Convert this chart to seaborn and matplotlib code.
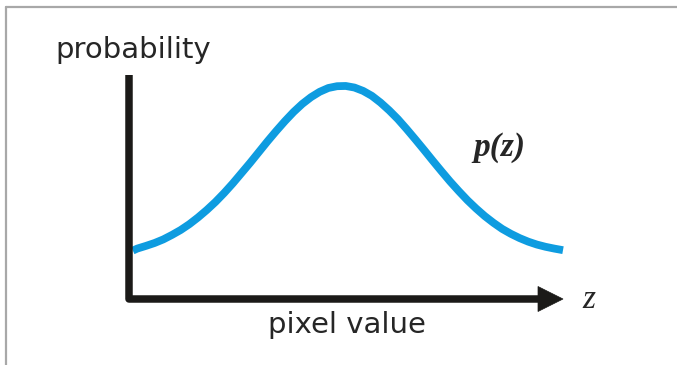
import matplotlib
matplotlib.use("Agg")
import matplotlib.pyplot as plt
from matplotlib.lines import Line2D
from matplotlib.patches import Polygon
import seaborn as sns
import pandas as pd

# Sampled readings of the probability curve p(z)
pixel_value = [1, 2, 4, 6, 8, 10, 12, 14, 16, 18, 20, 22, 24, 26, 28, 30, 32,
               34, 36, 38, 40, 42, 44, 46, 48, 50, 52, 54, 56, 58, 60, 62, 64,
               66, 68, 70, 72, 74, 76, 78, 80, 82, 84, 86, 88, 90, 92, 94, 96,
               98, 100]
probability = [0.216, 0.225, 0.237, 0.250, 0.266, 0.286, 0.308, 0.334, 0.364,
               0.397, 0.433, 0.473, 0.516, 0.562, 0.608, 0.656, 0.704, 0.750,
               0.794, 0.835, 0.871, 0.901, 0.925, 0.942, 0.950, 0.951, 0.944,
               0.929, 0.907, 0.877, 0.842, 0.803, 0.759, 0.713, 0.666, 0.618,
               0.571, 0.525, 0.482, 0.441, 0.404, 0.370, 0.340, 0.313, 0.291,
               0.272, 0.256, 0.243, 0.233, 0.225, 0.218]

y_label = "probability"
x_label = "pixel value"
curve_label = "p(z)"
axis_symbol = "z"

sns.set_style("white")
plt.rcParams["font.family"] = ["DejaVu Sans"]

W, H = 677, 365
fig = plt.figure(figsize=(W / 100, H / 100), dpi=100)
fig.patch.set_facecolor("white")


def fx(px):
    return px / W


def fy(py):
    return 1 - py / H


# axes box: left edge at the y axis, bottom at the x axis, right at the arrow tip
x0, x1, ytop, ybot = 128.5, 563.0, 75.0, 299.0
ax = fig.add_axes([fx(x0), fy(ybot), fx(x1) - fx(x0), fy(ytop) - fy(ybot)])
ax.set_xlim(0, 100)
ax.set_ylim(0, 1)
ax.axis("off")

df = pd.DataFrame({"pixel value": pixel_value, "probability": probability})
sns.lineplot(data=df, x="pixel value", y="probability", ax=ax,
             color="#0e9ce0", linewidth=5.6, solid_capstyle="butt",
             solid_joinstyle="round", clip_on=False)

axis_color = "#1b1a18"
head_len = 25 / (x1 - x0)
head_half = 12.5 / (ybot - ytop)
ax.plot([0, 0, 1 - head_len * 0.9], [1, 0, 0], transform=ax.transAxes,
        color=axis_color, linewidth=5.4, solid_joinstyle="round",
        solid_capstyle="butt", clip_on=False)
ax.add_patch(Polygon([[1, 0], [1 - head_len, head_half], [1 - head_len, -head_half]],
                     closed=True, transform=ax.transAxes, facecolor=axis_color,
                     edgecolor=axis_color, linewidth=0.5, clip_on=False))

# frame lines along top and left of the panel
fig.add_artist(Line2D([fx(6), 1], [fy(7), fy(7)], color="#a8a8a8", linewidth=1.6))
fig.add_artist(Line2D([fx(6), fx(6)], [fy(7), 0], color="#a8a8a8", linewidth=1.6))

text_color = "#262626"
fig.text(fx(133), fy(58), y_label, ha="center", va="baseline",
         fontsize=21, color=text_color)
fig.text(fx(347), fy(333), x_label, ha="center", va="baseline",
         fontsize=21, color=text_color)
fig.text(fx(499), fy(156), curve_label, ha="center", va="baseline",
         fontsize=24, color=text_color, family="Liberation Serif",
         style="italic", weight="bold")
fig.text(fx(589), fy(308), axis_symbol, ha="center", va="baseline",
         fontsize=24, color=text_color, family="Liberation Serif", style="italic")

fig.savefig("out.png", dpi=100, facecolor="white")
